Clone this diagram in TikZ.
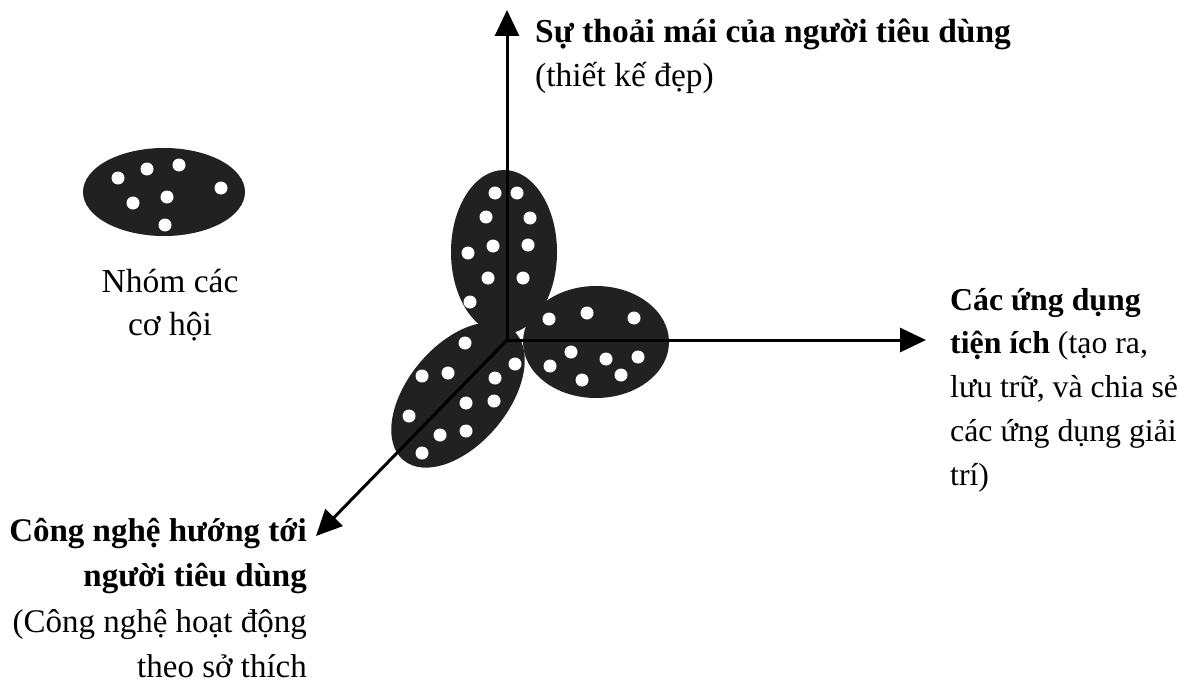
\documentclass[tikz,border=0pt]{standalone}
\usepackage{fontspec}
\setmainfont{Liberation Serif}
\usetikzlibrary{arrows.meta}
\begin{document}
\begin{tikzpicture}[x=1pt,y=-1pt,
  blob/.style={fill=black!87},
  hole/.style={fill=white},
  axis/.style={line width=3pt,-{Triangle[length=26pt,width=24pt]}},
  lbl/.style={inner sep=0pt, font=\fontsize{33.5}{44}\selectfont},
  rlbl/.style={inner sep=0pt, font=\fontsize{31.8}{44}\selectfont},
  llbl/.style={inner sep=0pt, font=\fontsize{33}{44}\selectfont}]
\useasboundingbox[fill=white] (0,0) rectangle (1185,682);
% small group
\fill[blob] (164,192) ellipse [x radius=81, y radius=44];
\foreach \p in {(118,178),(147,169),(179,165),(221,188),(167,197),(133,203),(165,225)}
  \fill[hole] \p circle (6.5);
% cluster
\fill[blob] (504,252) ellipse [x radius=53, y radius=82];
\fill[blob] (596,342) ellipse [x radius=73, y radius=56];
\fill[blob, rotate around={50:(458,395)}] (458,395) ellipse [x radius=85, y radius=50];
\foreach \p in {(495,193),(517,193),(486,217),(530,218),(493,246),(528,245),(468,253),(488,278),(523,278),(470,302),
  (549,319),(587,313),(634,318),(571,352),(550,366),(606,359),(638,357),(582,380),(621,375),
  (515,364),(465,343),(422,376),(448,373),(495,378),(466,403),(494,401),(409,416),(440,435),(466,431),(422,453)}
  \fill[hole] \p circle (6.5);
% axes
\coordinate (O) at (507,340);
\coordinate (up) at (507,10);
\coordinate (rt) at (926,340);
\coordinate (dl) at (316,536);
\draw[axis] (O) -- (up);
\draw[axis] (O) -- (rt);
\draw[axis] (O) -- (dl);
% labels
\node[lbl, anchor=base west] (t1) at (535,43) {\textbf{Sự thoải mái của người tiêu dùng}};
\node[lbl, anchor=base west] (t2) at (535,87) {(thiết kế đẹp)};
\node[rlbl, anchor=base west] (r1) at (950,310) {\textbf{Các ứng dụng}};
\node[rlbl, anchor=base west] (r2) at (950,353) {\textbf{tiện ích} (tạo ra,};
\node[rlbl, anchor=base west] (r3) at (950,397) {lưu trữ, và chia sẻ};
\node[rlbl, anchor=base west] (r4) at (950,441) {các ứng dụng giải};
\node[rlbl, anchor=base west] (r5) at (950,485) {trí)};
\node[llbl, anchor=base east] (l1) at (307,541) {\textbf{Công nghệ hướng tới}};
\node[llbl, anchor=base east] (l2) at (307,586) {\textbf{người tiêu dùng}};
\node[llbl, anchor=base east] (l3) at (307,632) {(Công nghệ hoạt động};
\node[llbl, anchor=base east] (l4) at (307,677) {theo sở thích};
\node[lbl, anchor=base] (n1) at (170,292) {Nhóm các};
\node[lbl, anchor=base] (n2) at (170,335) {cơ hội};
\end{tikzpicture}
\end{document}
